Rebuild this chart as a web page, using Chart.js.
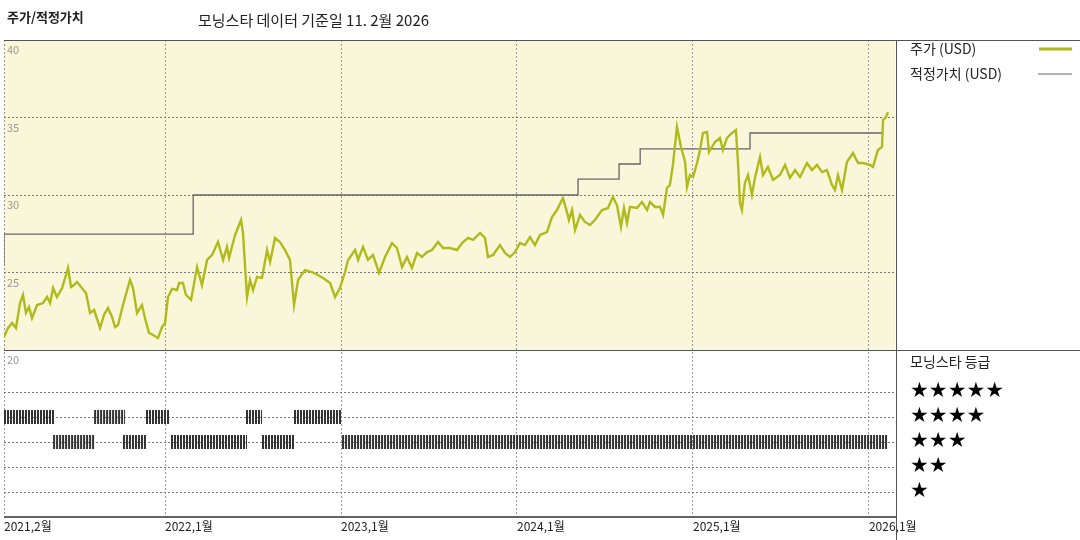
<!DOCTYPE html>
<html>
<head>
<meta charset="utf-8">
<script src="https://cdn.jsdelivr.net/npm/chart.js@4/dist/chart.umd.min.js"></script>
<style>
  body { margin: 0; background: #fff; }
  canvas { display: block; }
</style>
</head>
<body>
<canvas id="chart" width="1080" height="540"></canvas>
<script>
  // Time is a fractional year
  const xMin = 2021.085;
  const xMax = 2026.148;
  const yearTicks = [2021.085, 2022, 2023, 2024, 2025, 2026];
  const yearLabels = ['2021,2월', '2022,1월', '2023,1월', '2024,1월', '2025,1월', '2026,1월'];
  const priceTicks = [20, 25, 30, 35, 40];
  const ratingLevels = [1, 2, 3, 4, 5];

  // Share price (USD)
  const priceDates = [
    2021.085, 2021.108, 2021.131, 2021.153, 2021.176, 2021.193, 2021.210, 2021.227, 2021.244, 2021.273,
    2021.307, 2021.330, 2021.347, 2021.364, 2021.386, 2021.415, 2021.449, 2021.466, 2021.483, 2021.500,
    2021.523, 2021.551, 2021.574, 2021.597, 2021.631, 2021.653, 2021.676, 2021.699, 2021.716, 2021.733,
    2021.761, 2021.801, 2021.818, 2021.841, 2021.869, 2021.886, 2021.909, 2021.932, 2021.960, 2021.983,
    2022.000, 2022.017, 2022.040, 2022.068, 2022.080, 2022.102, 2022.119, 2022.148, 2022.182, 2022.210,
    2022.239, 2022.267, 2022.301, 2022.330, 2022.352, 2022.364, 2022.398, 2022.432, 2022.443, 2022.466,
    2022.483, 2022.500, 2022.523, 2022.551, 2022.580, 2022.597, 2022.625, 2022.653, 2022.682, 2022.710,
    2022.733, 2022.756, 2022.795, 2022.835, 2022.869, 2022.898, 2022.938, 2022.966, 2022.994, 2023.023,
    2023.040, 2023.080, 2023.097, 2023.125, 2023.153, 2023.182, 2023.216, 2023.250, 2023.290, 2023.318,
    2023.347, 2023.375, 2023.403, 2023.432, 2023.460, 2023.489, 2023.517, 2023.551, 2023.580, 2023.619,
    2023.659, 2023.688, 2023.722, 2023.750, 2023.790, 2023.818, 2023.835, 2023.864, 2023.903, 2023.932,
    2023.960, 2023.989, 2024.017, 2024.045, 2024.074, 2024.102, 2024.131, 2024.170, 2024.199, 2024.227,
    2024.261, 2024.284, 2024.295, 2024.313, 2024.330, 2024.358, 2024.386, 2024.415, 2024.443, 2024.483,
    2024.517, 2024.545, 2024.568, 2024.591, 2024.608, 2024.625, 2024.642, 2024.682, 2024.710, 2024.739,
    2024.756, 2024.784, 2024.813, 2024.830, 2024.852, 2024.869, 2024.886, 2024.909, 2024.932, 2024.955,
    2024.966, 2024.983, 2025.000, 2025.023, 2025.040, 2025.057, 2025.080, 2025.091, 2025.125, 2025.153,
    2025.170, 2025.193, 2025.222, 2025.244, 2025.256, 2025.267, 2025.278, 2025.295, 2025.313, 2025.335,
    2025.352, 2025.381, 2025.398, 2025.426, 2025.455, 2025.494, 2025.523, 2025.551, 2025.580, 2025.608,
    2025.648, 2025.676, 2025.705, 2025.733, 2025.761, 2025.790, 2025.807, 2025.824, 2025.847, 2025.875,
    2025.909, 2025.938, 2025.966, 2026.006, 2026.023, 2026.051, 2026.074, 2026.080, 2026.097, 2026.108
  ];
  const priceValues = [
    20.84, 21.42, 21.74, 21.42, 23.03, 23.55, 22.39, 22.77, 22.06, 22.90,
    23.03, 23.42, 23.03, 24.00, 23.42, 24.00, 25.29, 24.06, 24.19, 24.39,
    24.06, 23.68, 22.39, 22.58, 21.42, 22.26, 22.71, 22.13, 21.48, 21.61,
    22.90, 24.52, 24.00, 22.39, 22.90, 22.06, 21.10, 20.97, 20.77, 21.48,
    21.74, 23.42, 23.94, 23.87, 24.32, 24.32, 23.55, 23.23, 25.35, 24.19,
    25.81, 26.13, 26.97, 25.81, 26.65, 25.94, 27.42, 28.39, 27.55, 23.42,
    24.52, 23.87, 24.71, 24.65, 26.45, 25.68, 27.23, 26.97, 26.45, 25.81,
    22.90, 24.52, 25.16, 25.03, 24.84, 24.65, 24.32, 23.42, 24.00, 25.03,
    25.81, 26.45, 25.81, 26.65, 25.81, 26.13, 24.97, 26.00, 26.90, 26.58,
    25.35, 26.00, 25.29, 26.26, 26.00, 26.32, 26.45, 26.97, 26.58, 26.58,
    26.45, 26.90, 27.23, 27.10, 27.55, 27.23, 26.00, 26.13, 26.77, 26.26,
    26.00, 26.32, 26.90, 26.77, 27.29, 26.77, 27.42, 27.61, 28.58, 29.03,
    29.81, 28.90, 28.39, 29.03, 27.74, 28.71, 28.26, 28.06, 28.39, 29.03,
    29.16, 29.87, 29.35, 27.94, 29.16, 28.19, 29.23, 29.16, 29.55, 29.03,
    29.55, 29.23, 29.23, 28.71, 30.45, 30.65, 31.94, 34.39, 33.10, 32.13,
    30.52, 31.29, 31.16, 32.06, 32.90, 34.00, 34.06, 32.77, 33.42, 33.68,
    32.90, 33.68, 34.00, 34.19, 32.06, 29.48, 29.03, 30.77, 31.29, 30.00,
    31.10, 32.45, 31.29, 31.81, 30.97, 31.29, 31.94, 31.10, 31.61, 31.16,
    32.06, 31.61, 31.94, 31.48, 31.61, 30.65, 30.32, 31.29, 30.32, 32.13,
    32.71, 32.06, 32.06, 31.94, 31.81, 32.90, 33.10, 34.84, 35.03, 35.35
  ];

  // Fair value (USD), step changes
  const fairDates = [2021.085, 2022.160, 2024.347, 2024.580, 2024.700, 2025.324, 2025.830, 2026.080];
  const fairValues = [25.48, 27.48, 30.00, 31.03, 32.00, 32.97, 34.00, 34.00];

  // Morningstar rating periods: [start, end]
  const rating4Periods = [[2021.085, 2021.375], [2021.597, 2021.773], [2021.892, 2022.028], [2022.460, 2022.551], [2022.733, 2023.006]];
  const rating3Periods = [[2021.364, 2021.597], [2021.761, 2021.892], [2022.034, 2022.466], [2022.551, 2022.733], [2023.006, 2026.108]];

  const PRICE_COLOR = '#b0ba1c';
  const FAIR_COLOR = '#666666';
  const FONT = '"Noto Sans CJK KR", "Noto Sans", sans-serif';

  function periodsToPoints(periods, level) {
    const pts = [];
    periods.forEach(([a, b]) => {
      pts.push({ x: a, y: level }, { x: b, y: level }, { x: b, y: null });
    });
    return pts;
  }

  const panelPlugin = {
    id: 'panels',
    beforeDraw(chart) {
      const { ctx, chartArea } = chart;
      const yP = chart.scales.yPrice;
      ctx.save();
      ctx.fillStyle = '#faf6d9';
      ctx.fillRect(chartArea.left, yP.top, chartArea.right - chartArea.left, yP.bottom - yP.top);
      ctx.restore();
    },
    afterDraw(chart) {
      const { ctx, chartArea } = chart;
      const yP = chart.scales.yPrice;
      const yR = chart.scales.yRating;
      ctx.save();
      // frame lines
      ctx.strokeStyle = '#555';
      ctx.lineWidth = 1;
      ctx.beginPath();
      ctx.moveTo(chartArea.left, yP.top + 0.5); ctx.lineTo(1080, yP.top + 0.5);
      ctx.moveTo(chartArea.left, yP.bottom + 0.5); ctx.lineTo(1080, yP.bottom + 0.5);
      ctx.moveTo(chartArea.right + 1.5, yP.top); ctx.lineTo(chartArea.right + 1.5, 540);
      ctx.stroke();
      ctx.strokeStyle = '#333';
      ctx.lineWidth = 1.5;
      ctx.beginPath();
      ctx.moveTo(chartArea.left, chartArea.bottom); ctx.lineTo(chartArea.right + 1.5, chartArea.bottom);
      ctx.stroke();

      // price tick labels inside the plot
      ctx.fillStyle = '#999';
      ctx.font = '11px ' + FONT;
      ctx.textAlign = 'left';
      ctx.textBaseline = 'middle';
      priceTicks.forEach(v => {
        ctx.fillText(String(v), chartArea.left + 3, yP.getPixelForValue(v) + 10);
      });

      // titles
      ctx.fillStyle = '#222';
      ctx.font = 'bold 13px ' + FONT;
      ctx.fillText('주가/적정가치', 7, 17);
      ctx.font = '15px ' + FONT;
      ctx.fillText('모닝스타 데이터 기준일 11. 2월 2026', 198, 20);

      // legend
      ctx.font = '14px ' + FONT;
      ctx.fillText('주가 (USD)', 910, 49);
      ctx.fillText('적정가치 (USD)', 910, 74);
      ctx.strokeStyle = PRICE_COLOR;
      ctx.lineWidth = 3;
      ctx.beginPath(); ctx.moveTo(1039, 49); ctx.lineTo(1072, 49); ctx.stroke();
      ctx.strokeStyle = FAIR_COLOR;
      ctx.lineWidth = 1.2;
      ctx.beginPath(); ctx.moveTo(1038, 74); ctx.lineTo(1072, 74); ctx.stroke();

      ctx.fillStyle = '#222';
      ctx.fillText('모닝스타 등급', 910, 362);
      ctx.fillStyle = '#000';
      ctx.font = '21px "DejaVu Sans", sans-serif';
      ratingLevels.forEach(r => {
        ctx.fillText('★'.repeat(r), 910, yR.getPixelForValue(r));
      });
      ctx.restore();
    }
  };

  const ratingDatasets = [[4, rating4Periods], [3, rating3Periods]].map(([lvl, periods]) => ({
    label: lvl + ' stars',
    data: periodsToPoints(periods, lvl),
    yAxisID: 'yRating',
    borderColor: '#333',
    borderWidth: 14,
    borderDash: [2, 1],
    borderCapStyle: 'butt',
    pointRadius: 0,
    spanGaps: false,
    order: 3
  }));

  new Chart(document.getElementById('chart'), {
    type: 'line',
    data: {
      datasets: [
        {
          label: '주가 (USD)',
          data: priceDates.map((d, i) => ({ x: d, y: priceValues[i] })),
          yAxisID: 'yPrice',
          borderColor: PRICE_COLOR,
          borderWidth: 2.4,
          pointRadius: 0,
          tension: 0,
          order: 1
        },
        {
          label: '적정가치 (USD)',
          data: fairDates.map((d, i) => ({ x: d, y: fairValues[i] })),
          yAxisID: 'yPrice',
          borderColor: FAIR_COLOR,
          borderWidth: 1.3,
          pointRadius: 0,
          stepped: 'after',
          order: 2
        },
        ...ratingDatasets
      ]
    },
    options: {
      responsive: false,
      animation: false,
      layout: { padding: { left: 4, right: 185, top: 40, bottom: 0 } },
      plugins: { legend: { display: false }, tooltip: { enabled: false } },
      scales: {
        x: {
          type: 'linear',
          min: xMin,
          max: xMax,
          afterBuildTicks: scale => { scale.ticks = yearTicks.map(v => ({ value: v })); },
          afterFit: scale => { scale.height = 23; },
          ticks: {
            autoSkip: false,
            maxRotation: 0,
            align: 'start',
            padding: 2,
            color: '#222',
            font: { family: FONT, size: 12 },
            callback: (v, i) => yearLabels[i]
          },
          grid: { color: '#999', tickLength: 0, drawTicks: false },
          border: { display: false, dash: [2, 2] }
        },
        yRating: {
          type: 'linear',
          position: 'left',
          stack: 'panels',
          stackWeight: 167,
          min: 0,
          max: 6.68,
          afterBuildTicks: scale => { scale.ticks = ratingLevels.map(v => ({ value: v })); },
          afterFit: scale => { scale.width = 0; },
          ticks: { display: false },
          grid: { color: '#777', drawTicks: false },
          border: { display: false, dash: [2, 2] }
        },
        yPrice: {
          type: 'linear',
          position: 'left',
          stack: 'panels',
          stackWeight: 310,
          min: 20,
          max: 40,
          afterBuildTicks: scale => { scale.ticks = priceTicks.map(v => ({ value: v })); },
          afterFit: scale => { scale.width = 0; },
          ticks: { display: false },
          grid: { color: '#777', drawTicks: false },
          border: { display: false, dash: [2, 2] }
        }
      }
    },
    plugins: [panelPlugin]
  });
</script>
</body>
</html>
